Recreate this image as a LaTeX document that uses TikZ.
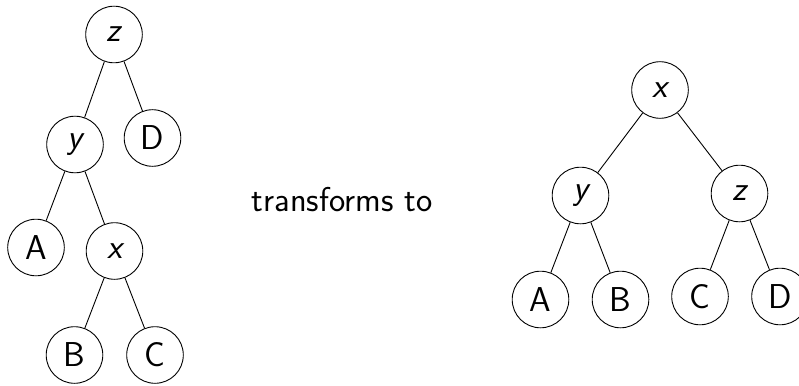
\documentclass[tikz,border=0pt]{standalone}
\usepackage{fontspec}
\begin{document}
\begin{tikzpicture}[x=1pt,y=-1pt,
  tnode/.style={draw, circle, line width=0.9pt, minimum size=56.6pt, inner sep=0pt,
    font=\fontsize{34.5}{40}\selectfont\sffamily},
  edge/.style={line width=0.9pt},
  lbl/.style={font=\fontsize{34.5}{40}\selectfont\sffamily, anchor=base, inner sep=0pt}]
\useasboundingbox (0,0) rectangle (799,385);
% left tree
\node[tnode] (lz) at (114,34.5) {\itshape z};
\node[tnode] (ly) at (75,144.5) {\itshape y};
\node[tnode] (lD) at (152.5,138) {D};
\node[tnode] (lA) at (36,247.5) {A};
\node[tnode] (lx) at (114.5,251) {\itshape x};
\node[tnode] (lB) at (74.5,355) {B};
\node[tnode] (lC) at (155,355) {C};
\draw[edge] (lz) -- (ly);
\draw[edge] (lz) -- (lD);
\draw[edge] (ly) -- (lA);
\draw[edge] (ly) -- (lx);
\draw[edge] (lx) -- (lB);
\draw[edge] (lx) -- (lC);
% label
\node[lbl] (t) at (342,211) {transforms to};
% right tree
\node[tnode] (rx) at (660,90) {\itshape x};
\node[tnode] (ry) at (580.5,195.5) {\itshape y};
\node[tnode] (rz) at (739.5,193.5) {\itshape z};
\node[tnode] (rA) at (540.5,299.5) {A};
\node[tnode] (rB) at (620.5,299.5) {B};
\node[tnode] (rC) at (700,296.5) {C};
\node[tnode] (rD) at (780,296.5) {D};
\draw[edge] (rx) -- (ry);
\draw[edge] (rx) -- (rz);
\draw[edge] (ry) -- (rA);
\draw[edge] (ry) -- (rB);
\draw[edge] (rz) -- (rC);
\draw[edge] (rz) -- (rD);
\end{tikzpicture}
\end{document}
